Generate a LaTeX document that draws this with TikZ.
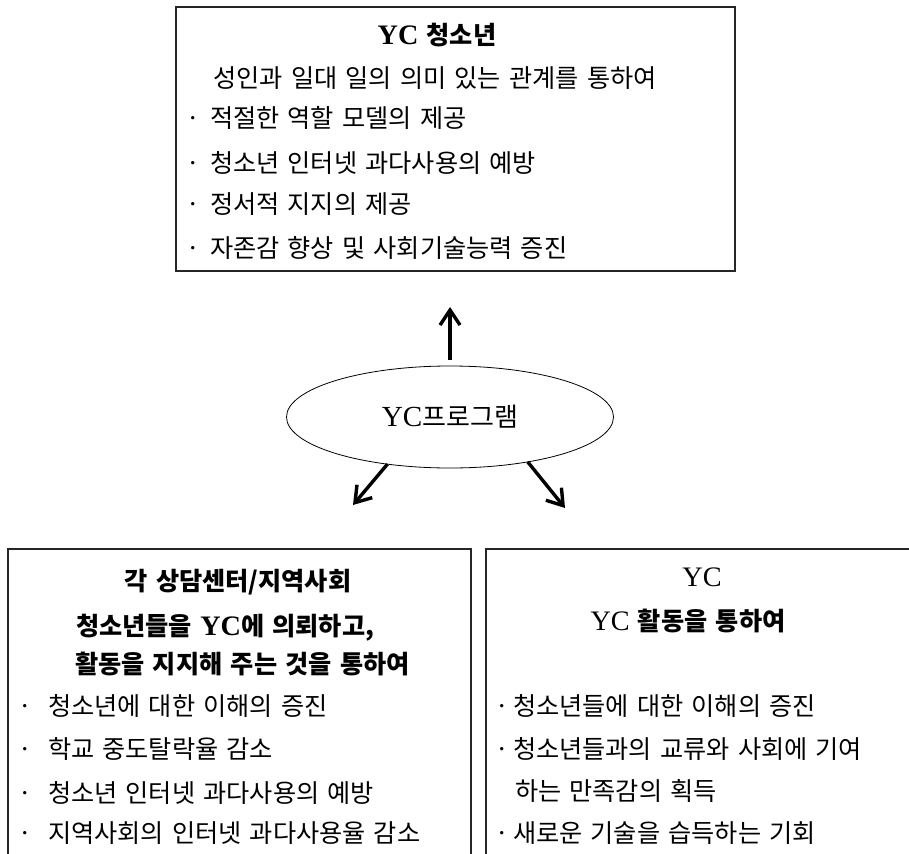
\documentclass[tikz,border=0pt]{standalone}
\usepackage{fontspec}
\setmainfont[WordSpace=1.45]{Noto Sans CJK KR}
\newfontfamily\latfont[Scale=1.12]{Liberation Serif}
\usetikzlibrary{shapes.geometric,arrows.meta}
\newcommand\bul[1]{\makebox[#1][l]{\latfont ·}}
\begin{document}
\begin{tikzpicture}[x=1pt,y=-1pt,
  every node/.style={inner sep=0pt, outer sep=0pt},
  fnt/.style={font=\fontsize{25.2}{30}\selectfont},
  bfnt/.style={font=\fontsize{25.2}{30}\selectfont\bfseries},
  txt/.style={anchor=base west},
  ctxt/.style={anchor=base},
  boxstyle/.style={draw=black!85, line width=1.3pt, rectangle},
  arr/.style={line width=3.4pt, -{Straight Barb[length=15pt,width=20pt]}}
]
\clip (0,0) rectangle (909,853);
% boxes
\node[boxstyle, minimum width=559pt, minimum height=264pt] (topbox) at (455.5,139) {};
\node[boxstyle, minimum width=463pt, minimum height=340pt, anchor=north west] (lbox) at (8,549) {};
\node[boxstyle, minimum width=444pt, minimum height=340pt, anchor=north west] (rbox) at (486,549) {};
% ellipse
\node[draw=black, line width=0.8pt, ellipse, minimum width=327pt, minimum height=102pt, font=\fontsize{26}{30}\selectfont] (prog) at (450,417) {{\latfont YC}프로그램};
% arrows
\coordinate (uptip) at (450,307);
\coordinate (ltip) at (353,505);
\coordinate (rtip) at (565,508);
\draw[arr] ([yshift=6pt]prog.north) -- (uptip);
\draw[arr] (prog.217.6) -- (ltip);
\draw[arr] (prog.-30.3) -- (rtip);
% top box text
\node[bfnt, ctxt] (t0) at (437,45) {{\latfont\bfseries YC} 청소년};
\node[fnt, ctxt] (t1) at (435,88) {성인과 일대 일의 의미 있는 관계를 통하여};
\node[fnt, txt] (t2) at (188,128) {\bul{22pt}적절한 역할 모델의 제공};
\node[fnt, txt] (t3) at (188,172) {\bul{22pt}청소년 인터넷 과다사용의 예방};
\node[fnt, txt] (t4) at (188,213) {\bul{22pt}정서적 지지의 제공};
\node[fnt, txt] (t5) at (188,257) {\bul{22pt}자존감 향상 및 사회기술능력 증진};
% left box text
\node[bfnt, ctxt] (l0) at (238,590) {각 상담센터/지역사회};
\node[bfnt, txt] (l1) at (76,635) {청소년들을 {\latfont\bfseries YC}에 의뢰하고,};
\node[bfnt, txt] (l2) at (75,673) {활동을 지지해 주는 것을 통하여};
\node[fnt, txt] (l3) at (20,715) {\bul{28pt}청소년에 대한 이해의 증진};
\node[fnt, txt] (l4) at (20,758) {\bul{28pt}학교 중도탈락율 감소};
\node[fnt, txt] (l5) at (20,802) {\bul{28pt}청소년 인터넷 과다사용의 예방};
\node[fnt, txt] (l6) at (20,842) {\bul{28pt}지역사회의 인터넷 과다사용율 감소};
% right box text
\node[fnt, ctxt] (r0) at (702,586) {{\latfont YC}};
\node[fnt, ctxt] (r1) at (688,630) {{\latfont YC} \textbf{활동을 통하여}};
\node[fnt, txt] (r2) at (497,715) {\bul{16pt}청소년들에 대한 이해의 증진};
\node[fnt, txt] (r3) at (497,758) {\bul{16pt}청소년들과의 교류와 사회에 기여};
\node[fnt, txt] (r4) at (515,800) {하는 만족감의 획득};
\node[fnt, txt] (r5) at (497,842) {\bul{16pt}새로운 기술을 습득하는 기회};
\end{tikzpicture}
\end{document}
